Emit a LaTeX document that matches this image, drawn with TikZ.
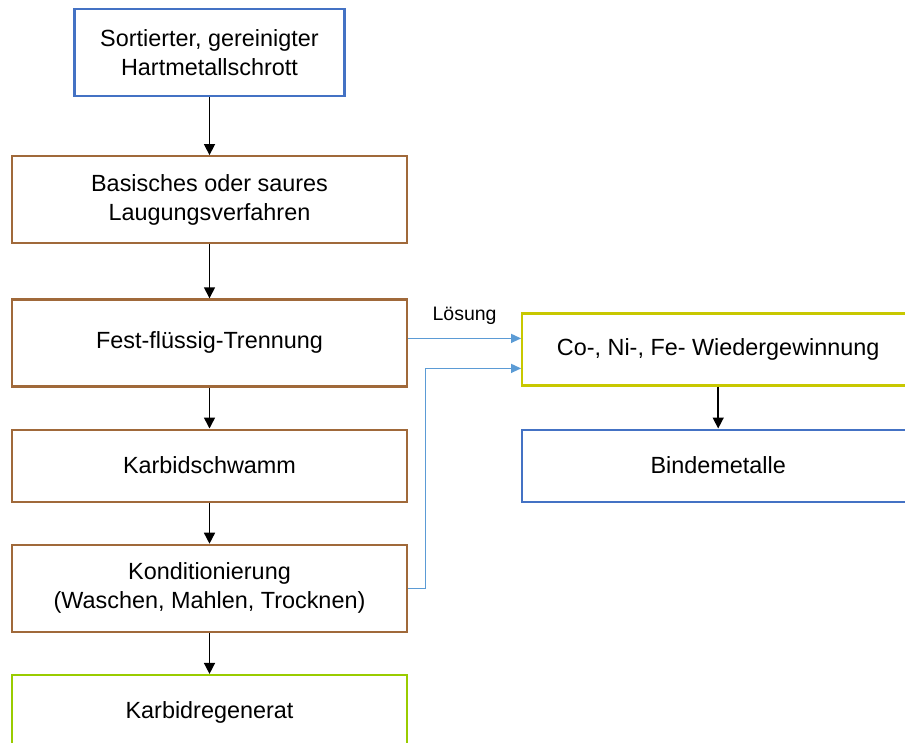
\documentclass[tikz,border=0pt]{standalone}
\usepackage{fontspec}
\setmainfont{Liberation Sans}
\usetikzlibrary{arrows.meta,positioning,calc}
\definecolor{frameblue}{HTML}{4472C4}
\definecolor{framebrown}{HTML}{A0693A}
\definecolor{framegreen}{HTML}{99CC00}
\definecolor{frameyellow}{HTML}{C8C800}
\definecolor{flowblue}{HTML}{5B9BD5}

\begin{document}
\begin{tikzpicture}[x=1pt,y=1pt,
  font=\fontsize{23.4}{29}\selectfont,
  box/.style={draw,rectangle,minimum width=395pt,minimum height=87pt,align=center,inner sep=2pt,line width=2.2pt,fill=white},
  start/.style={box,draw=frameblue,minimum width=270pt},
  proc/.style={box,draw=framebrown},
  prod/.style={box,draw=framegreen},
  rec/.style={box,draw=frameyellow,minimum width=392pt,minimum height=72pt},
  ar/.style={-{Triangle[length=11pt,width=11pt]},line width=1.5pt,black},
  sol/.style={-{Triangle[length=10pt,width=9pt]},line width=1.2pt,flowblue}]

\useasboundingbox (0,0) rectangle (905,-742);

% main track
\node[start] (s1) at (209.5,-52.5) {Sortierter, gereinigter\\Hartmetallschrott};
\node[proc,below=58pt of s1] (s2) {Basisches oder saures\\Laugungsverfahren};
\node[proc,below=54pt of s2] (s3) {Fest-flüssig-Trennung};
\node[proc,below=41pt of s3,minimum height=72pt] (s4) {Karbidschwamm};
\node[proc,below=41pt of s4] (s5) {Konditionierung\\(Waschen, Mahlen, Trocknen)};
\node[prod,below=41pt of s5,minimum height=74pt] (s6) {Karbidregenerat};

% binder recovery
\node[rec,right=113pt of s3,yshift=-6.5pt] (r1) {Co-, Ni-, Fe- Wiedergewinnung};
\node[rec,draw=frameblue,below=42pt of r1] (r2) {Bindemetalle};

\draw[ar] (s1)--(s2); \draw[ar] (s2)--(s3); \draw[ar] (s3)--(s4);
\draw[ar] (s4)--(s5); \draw[ar] (s5)--(s6);
\draw[ar] (r1)--(r2);

\draw[sol] ([yshift=4.5pt]s3.east) -- ([yshift=4.5pt]s3.east -| r1.west)
  node[midway,above=10pt,black,font=\fontsize{19.5}{23}\selectfont] (lsg) {Lösung};
\draw[sol] (s5.east) -- ++(17pt,0) |- ([yshift=-19pt]r1.west);
\end{tikzpicture}
\end{document}
